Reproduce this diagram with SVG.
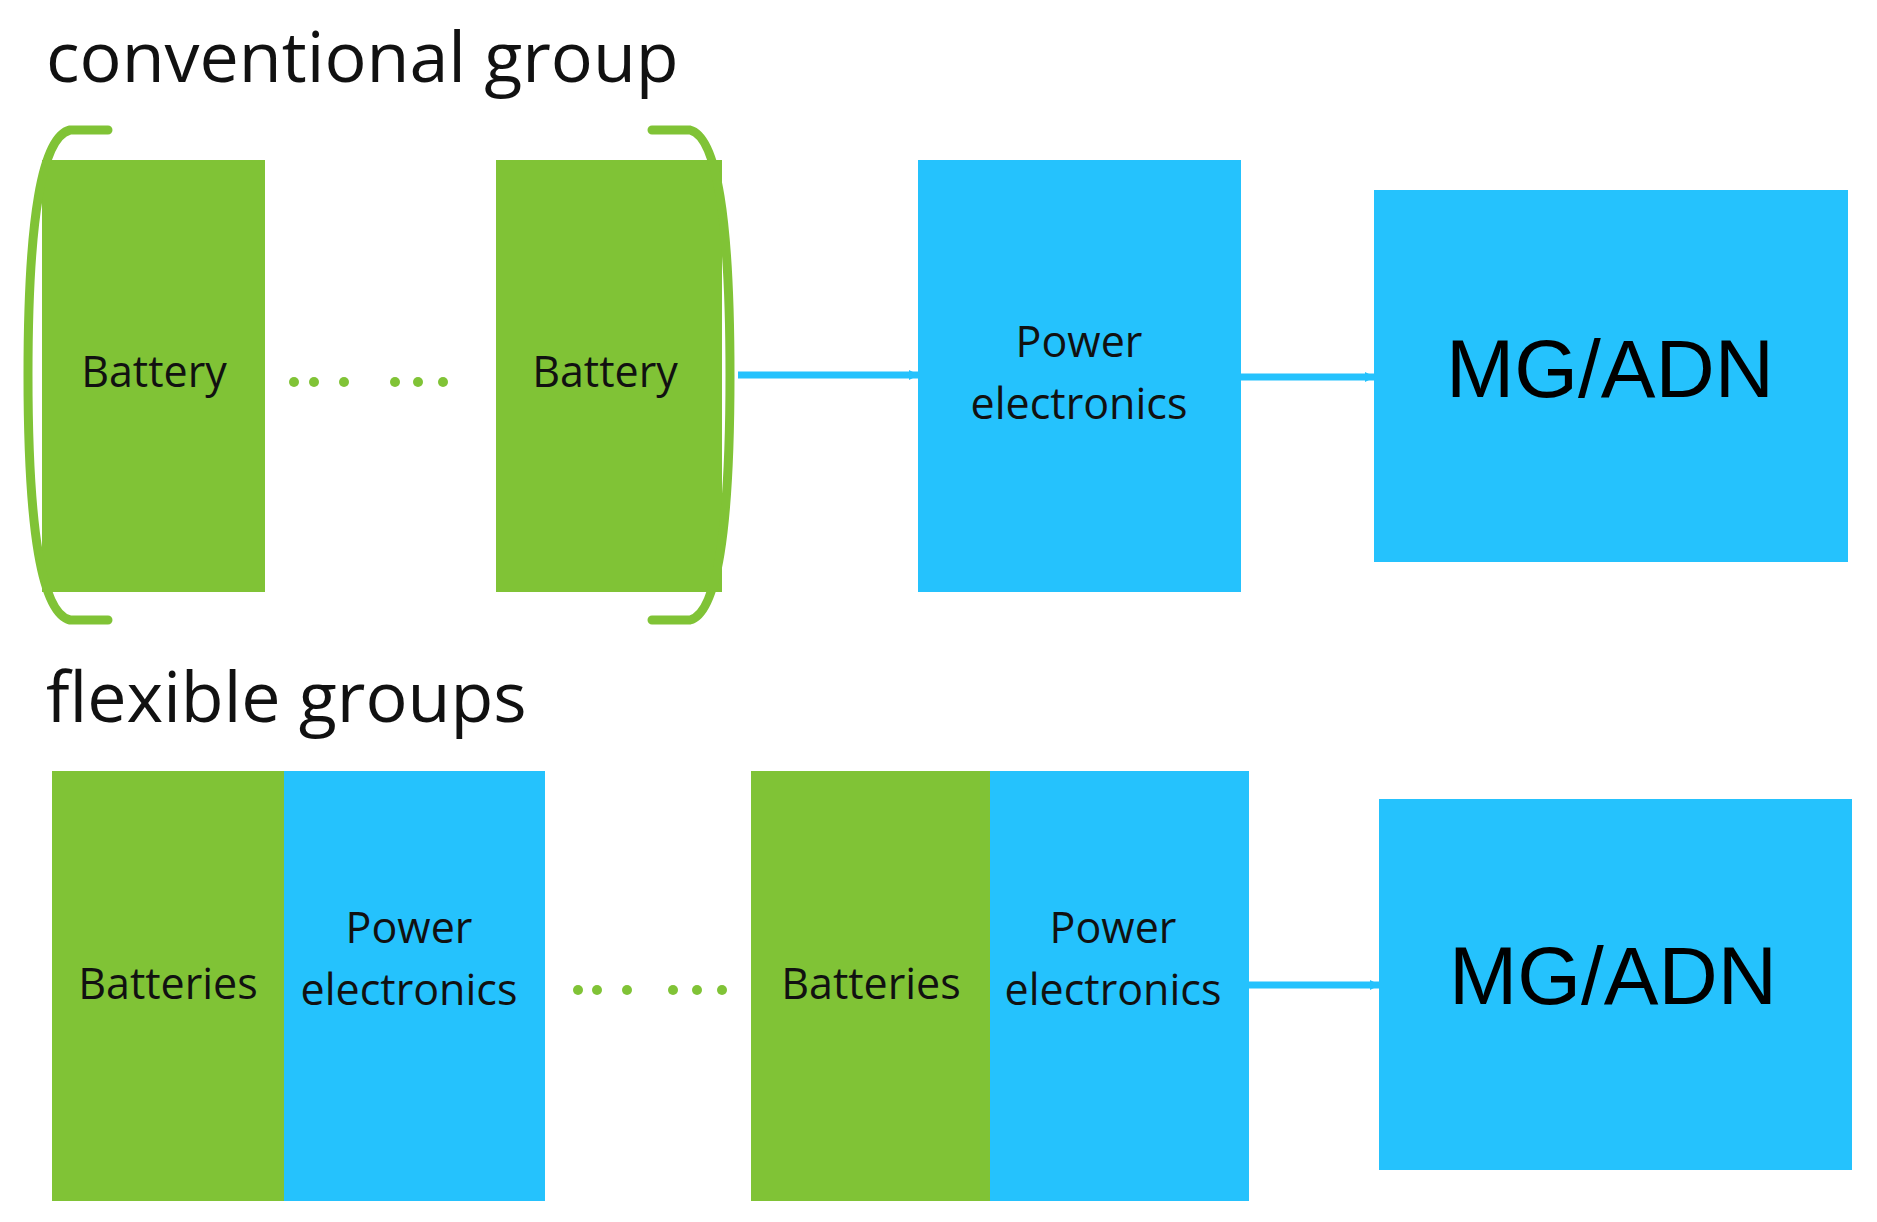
<svg xmlns="http://www.w3.org/2000/svg" width="1877" height="1222" viewBox="0 0 1877 1222">
<defs>
<style>
.g{fill:#80c336}.b{fill:#25c2fd}
.t{font-family:"Open Sans","Noto Sans",sans-serif;font-size:43px;fill:#111;text-anchor:middle;dominant-baseline:middle}
.h{font-family:"Open Sans","Noto Sans",sans-serif;font-size:70px;fill:#111}
.m{font-family:"Liberation Sans",Arial,sans-serif;font-size:82px;fill:#000;text-anchor:middle;dominant-baseline:middle}
.br{fill:none;stroke:#80c336;stroke-width:9;stroke-linecap:round}
.dot{fill:#80c336}
.c{stroke:#25c2fd;stroke-width:7;fill:none}
</style>
<marker id="a" markerWidth="10" markerHeight="10" refX="9" refY="5" orient="auto" markerUnits="userSpaceOnUse" viewBox="0 0 10 10"><path d="M0,0L10,5L0,10z" fill="#25c2fd"/></marker>
</defs>
<text class="h" x="46" x2="0" y="82">conventional group</text>
<text class="h" x="46" y="722">flexible groups</text>
<g id="battery1"><rect class="g" x="42" y="160" width="223" height="432"/><text class="t" x="154" y="375">Battery</text></g>
<g id="battery2"><rect class="g" x="496" y="160" width="226" height="432"/><text class="t" x="605" y="375">Battery</text></g>
<g id="bracket"><path class="br" d="M108,130 H70 Q28,140 28,375 Q28,610 70,620 H108"/><path class="br" d="M652,130 H690 Q730,140 730,375 Q730,610 690,620 H652"/></g>
<g id="dots1"><g class="dot"><circle cx="294" cy="382" r="5"/><circle cx="314" cy="382" r="5"/><circle cx="344" cy="382" r="5"/><circle cx="395" cy="382" r="5"/><circle cx="418" cy="382" r="5"/><circle cx="443" cy="382" r="5"/></g></g>
<g id="pe1"><rect class="b" x="918" y="160" width="323" height="432"/><text class="t" x="1079" y="345">Power</text><text class="t" x="1079" y="407">electronics</text></g>
<g id="mg1"><rect class="b" x="1374" y="190" width="474" height="372"/><text class="m" x="1610" y="375">MG/ADN</text></g>
<g id="fg1"><rect class="g" x="52" y="771" width="232" height="430"/><rect class="b" x="284" y="771" width="261" height="430"/><text class="t" x="168" y="987">Batteries</text><text class="t" x="409" y="931">Power</text><text class="t" x="409" y="993">electronics</text></g>
<g id="dots2"><g class="dot"><circle cx="578" cy="990" r="5"/><circle cx="597" cy="990" r="5"/><circle cx="627" cy="990" r="5"/><circle cx="673" cy="990" r="5"/><circle cx="697" cy="990" r="5"/><circle cx="722" cy="990" r="5"/></g></g>
<g id="fg2"><rect class="g" x="751" y="771" width="239" height="430"/><rect class="b" x="990" y="771" width="259" height="430"/><text class="t" x="871" y="987">Batteries</text><text class="t" x="1113" y="931">Power</text><text class="t" x="1113" y="993">electronics</text></g>
<g id="mg2"><rect class="b" x="1379" y="799" width="473" height="371"/><text class="m" x="1613" y="982">MG/ADN</text></g>
<g id="connectors"><line class="c" x1="738" y1="375" x2="918" y2="375" marker-end="url(#a)"/><line class="c" x1="1241" y1="377" x2="1374" y2="377" marker-end="url(#a)"/><line class="c" x1="1249" y1="985" x2="1379" y2="985" marker-end="url(#a)"/></g>
<style>marker path{}</style>
</svg>
